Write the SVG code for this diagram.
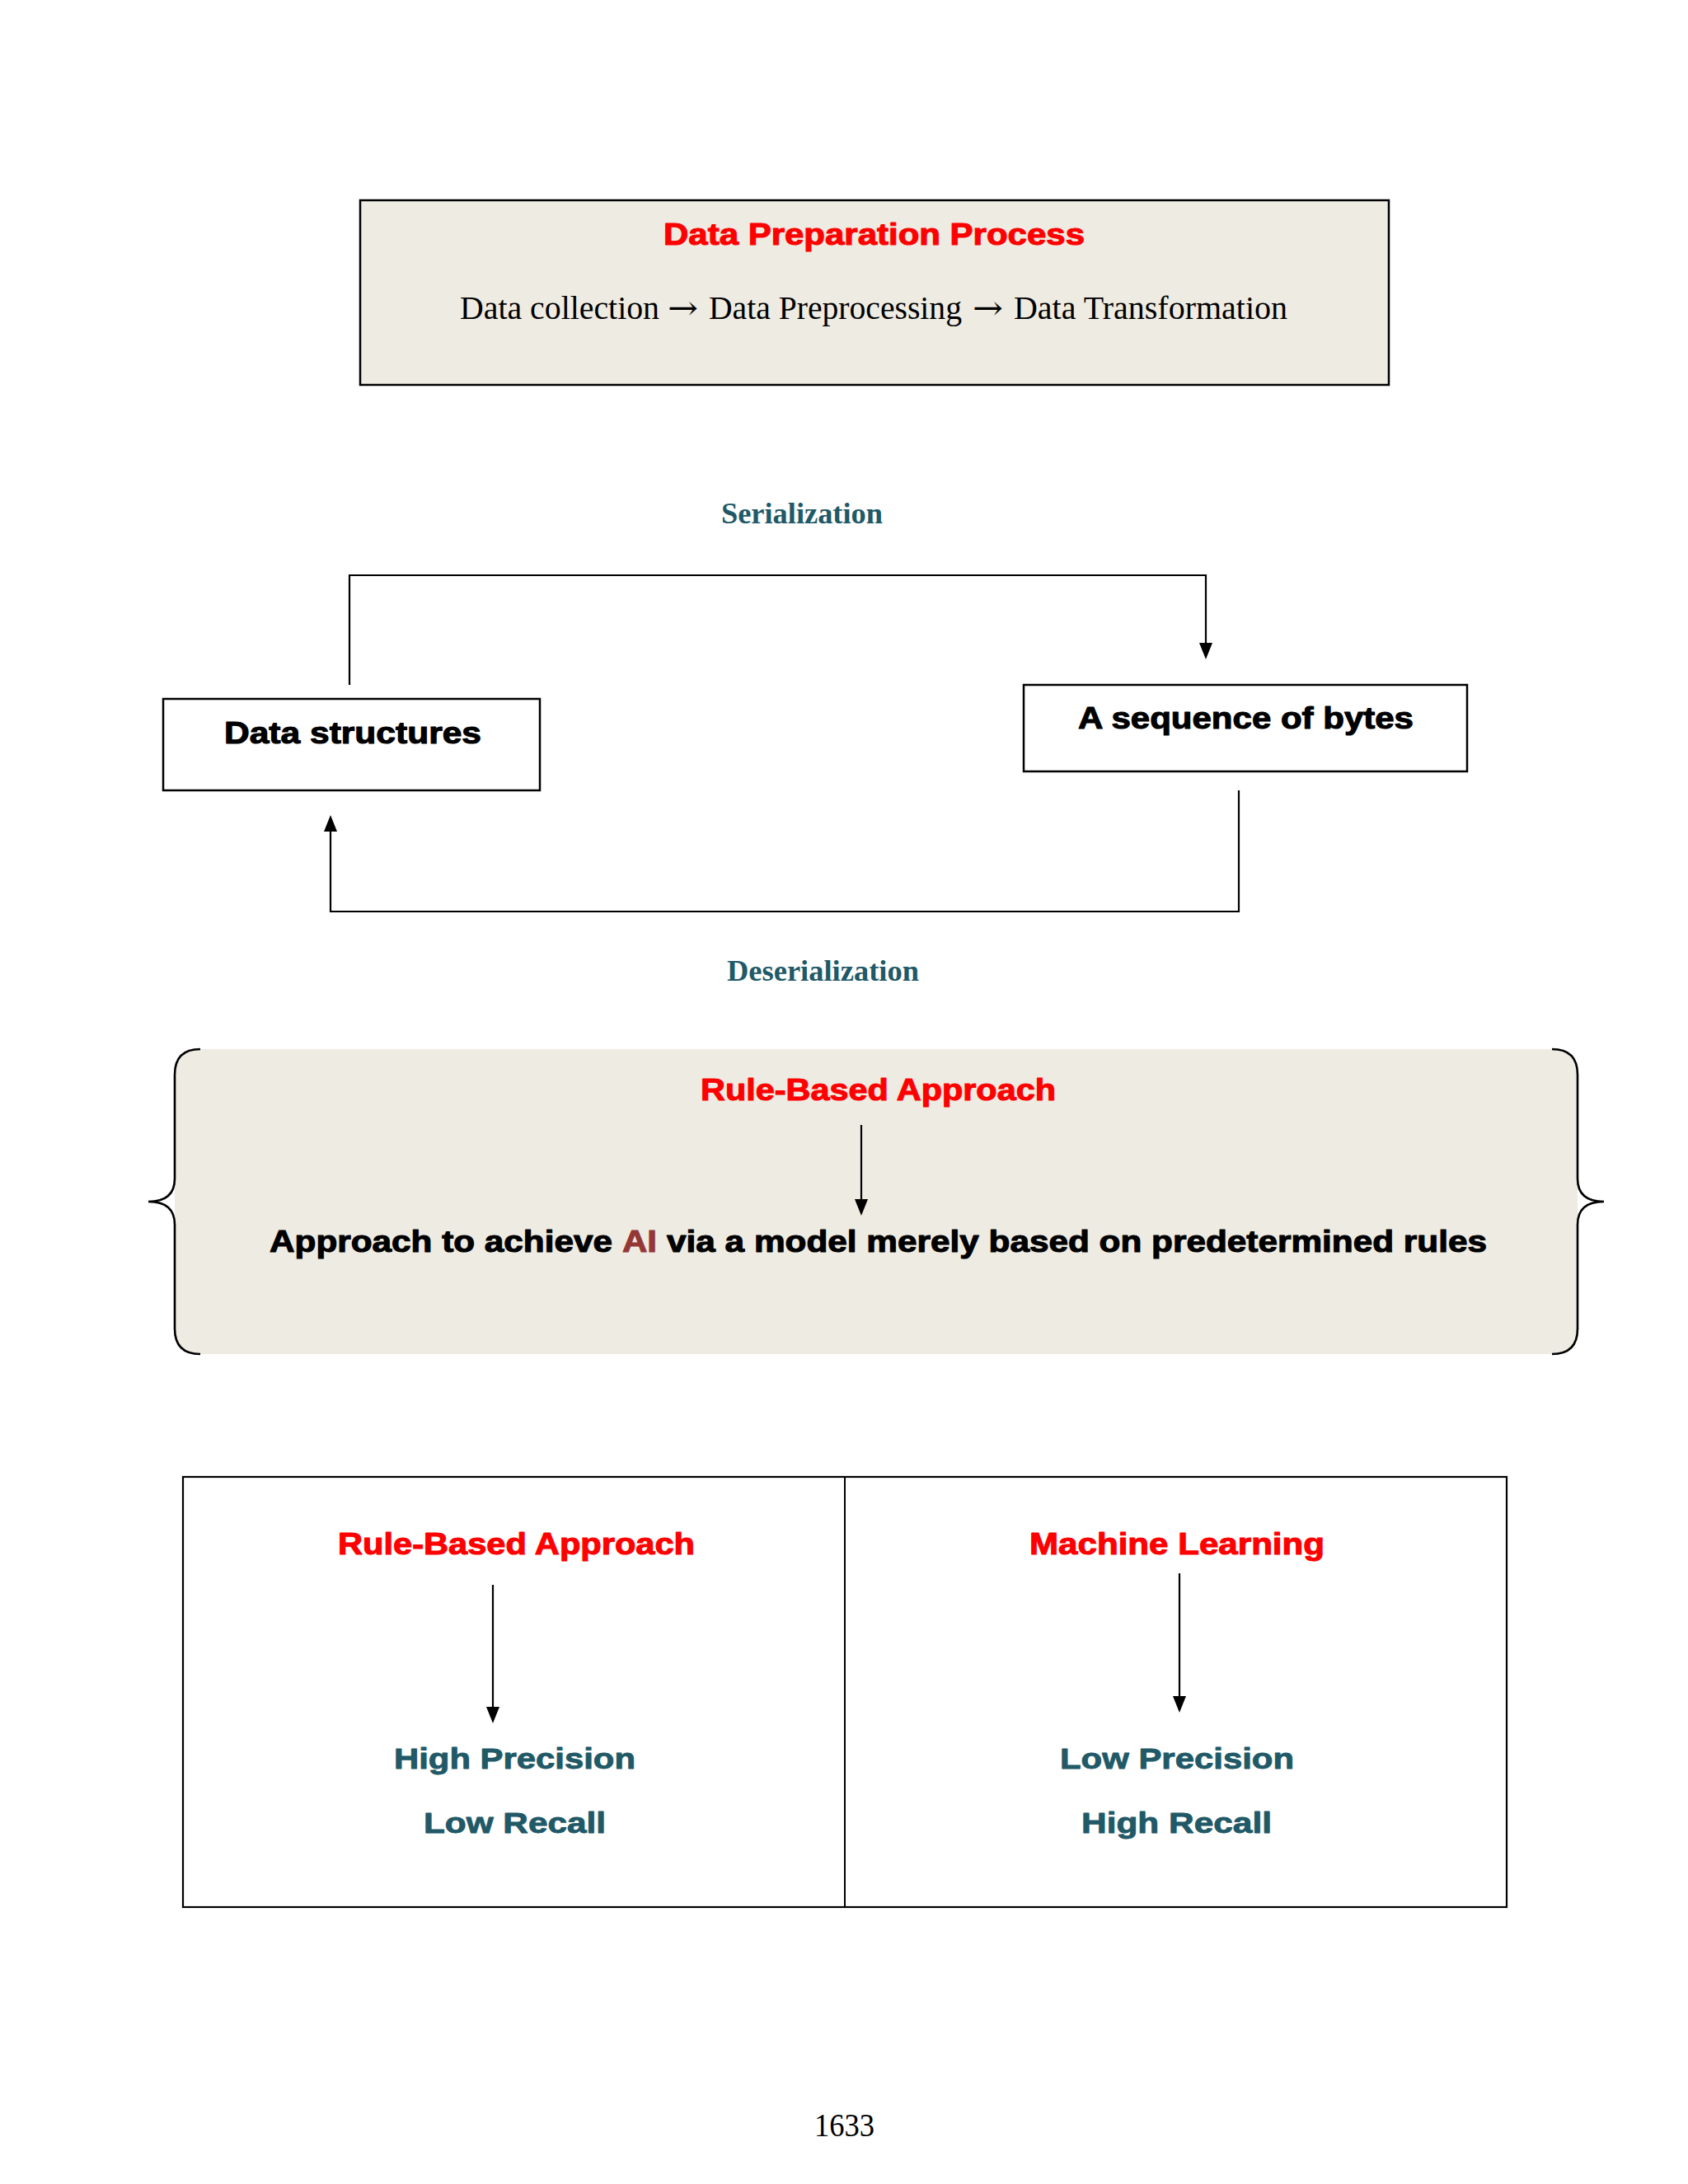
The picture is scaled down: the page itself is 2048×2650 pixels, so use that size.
<svg xmlns="http://www.w3.org/2000/svg" width="2048" height="2650" viewBox="0 0 2048 2650">
<style>
.sb{font-family:"Liberation Sans",Arial,sans-serif;font-weight:bold;font-size:37px;stroke-width:1.1px;stroke-linejoin:round}
.red{fill:#FF0000;stroke:#FF0000}
.blk{fill:#000000;stroke:#000000}
.ai{fill:#953735;stroke:#953735}
.tl{font-family:"Liberation Sans",Arial,sans-serif;font-weight:bold;font-size:35px;fill:#215967;stroke:#215967;stroke-width:0.9px;stroke-linejoin:round}
.sr{font-family:"Liberation Serif","Times New Roman",serif;font-size:40px;fill:#000}
.arr{font-family:"DejaVu Serif","Liberation Serif",serif;font-size:40px;fill:#000}
.srb{font-family:"Liberation Serif","Times New Roman",serif;font-weight:bold;font-size:36.4px;fill:#215967}
.box{fill:#FFFFFF;stroke:#000;stroke-width:2.5}
.beige{fill:#EEEBE2;stroke:#000;stroke-width:2.5}
.conn{fill:none;stroke:#000;stroke-width:2.2}
.brace{fill:none;stroke:#000;stroke-width:2.6}
.tbl{fill:#FFFFFF;stroke:#000;stroke-width:2.2}
</style>
<defs>
<marker id="ah" markerUnits="userSpaceOnUse" markerWidth="20" markerHeight="16" viewBox="0 0 20 16" refX="0" refY="8" orient="auto">
<path d="M0,0 L20,8 L0,16 Z" fill="#000"/>
</marker>
</defs>
<rect width="2048" height="2650" fill="#FFFFFF"/>

<g id="data-preparation">
<rect class="beige" x="437" y="243" width="1248" height="224"/>
<text class="sb red" x="805" y="297" textLength="511" lengthAdjust="spacingAndGlyphs">Data Preparation Process</text>
<text class="sr" x="558" y="387" textLength="242" lengthAdjust="spacingAndGlyphs">Data collection</text>
<text class="arr" x="810" y="387" textLength="37" lengthAdjust="spacingAndGlyphs">→</text>
<text class="sr" x="860" y="387" textLength="307" lengthAdjust="spacingAndGlyphs">Data Preprocessing</text>
<text class="arr" x="1180" y="387" textLength="37" lengthAdjust="spacingAndGlyphs">→</text>
<text class="sr" x="1230" y="387" textLength="332" lengthAdjust="spacingAndGlyphs">Data Transformation</text>
</g>

<g id="serialization-label">
<text class="srb" x="875" y="635" textLength="196" lengthAdjust="spacingAndGlyphs">Serialization</text>
</g>

<g id="data-structures">
<rect class="box" x="198" y="848" width="457" height="111"/>
<text class="sb blk" x="272" y="902" textLength="312" lengthAdjust="spacingAndGlyphs">Data structures</text>
</g>

<g id="sequence-of-bytes">
<rect class="box" x="1242" y="831" width="538" height="105"/>
<text class="sb blk" x="1308" y="884" textLength="407" lengthAdjust="spacingAndGlyphs">A sequence of bytes</text>
</g>

<g id="deserialization-label">
<text class="srb" x="882" y="1190" textLength="233" lengthAdjust="spacingAndGlyphs">Deserialization</text>
</g>

<g id="rule-based-brace">
<path d="M243,1273 L1883,1273 Q1914,1273 1914,1304 L1914,1612 Q1914,1643 1883,1643 L243,1643 Q212,1643 212,1612 L212,1304 Q212,1273 243,1273 Z" fill="#EEEBE2"/>
<path class="brace" d="M243,1273 Q212,1273 212,1304 L212,1430 Q212,1458 180,1458 Q212,1458 212,1486 L212,1612 Q212,1643 243,1643"/>
<path class="brace" d="M1883,1273 Q1914,1273 1914,1304 L1914,1430 Q1914,1458 1946,1458 Q1914,1458 1914,1486 L1914,1612 Q1914,1643 1883,1643"/>
<text class="sb red" x="850" y="1335" textLength="431" lengthAdjust="spacingAndGlyphs">Rule-Based Approach</text>
<text class="sb blk" x="327" y="1519" textLength="416" lengthAdjust="spacingAndGlyphs">Approach to achieve</text>
<text class="sb ai" x="755" y="1519" textLength="42" lengthAdjust="spacingAndGlyphs">AI</text>
<text class="sb blk" x="809" y="1519" textLength="995" lengthAdjust="spacingAndGlyphs">via a model merely based on predetermined rules</text>
</g>

<g id="comparison-table">
<rect class="tbl" x="222" y="1792" width="1606" height="522"/>
<line x1="1025" y1="1792" x2="1025" y2="2314" stroke="#000" stroke-width="2"/>
</g>

<g id="rule-based-cell">
<text class="sb red" x="410" y="1886" textLength="433" lengthAdjust="spacingAndGlyphs">Rule-Based Approach</text>
<text class="tl" x="478" y="2146" textLength="293" lengthAdjust="spacingAndGlyphs">High Precision</text>
<text class="tl" x="514" y="2224" textLength="221" lengthAdjust="spacingAndGlyphs">Low Recall</text>
</g>

<g id="machine-learning-cell">
<text class="sb red" x="1249" y="1886" textLength="358" lengthAdjust="spacingAndGlyphs">Machine Learning</text>
<text class="tl" x="1286" y="2146" textLength="284" lengthAdjust="spacingAndGlyphs">Low Precision</text>
<text class="tl" x="1312" y="2224" textLength="231" lengthAdjust="spacingAndGlyphs">High Recall</text>
</g>

<g id="connectors">
<path class="conn" d="M424,831 V698 H1463 V780" marker-end="url(#ah)"/>
<path class="conn" d="M1503,959 V1106 H401 V1009" marker-end="url(#ah)"/>
<path class="conn" d="M1045,1365 V1455" marker-end="url(#ah)"/>
<path class="conn" d="M598,1923 V2071" marker-end="url(#ah)"/>
<path class="conn" d="M1431,1909 V2058" marker-end="url(#ah)"/>
</g>

<g id="page-number">
<text class="sr" x="988" y="2592" font-size="38" textLength="73" lengthAdjust="spacingAndGlyphs">1633</text>
</g>
</svg>
